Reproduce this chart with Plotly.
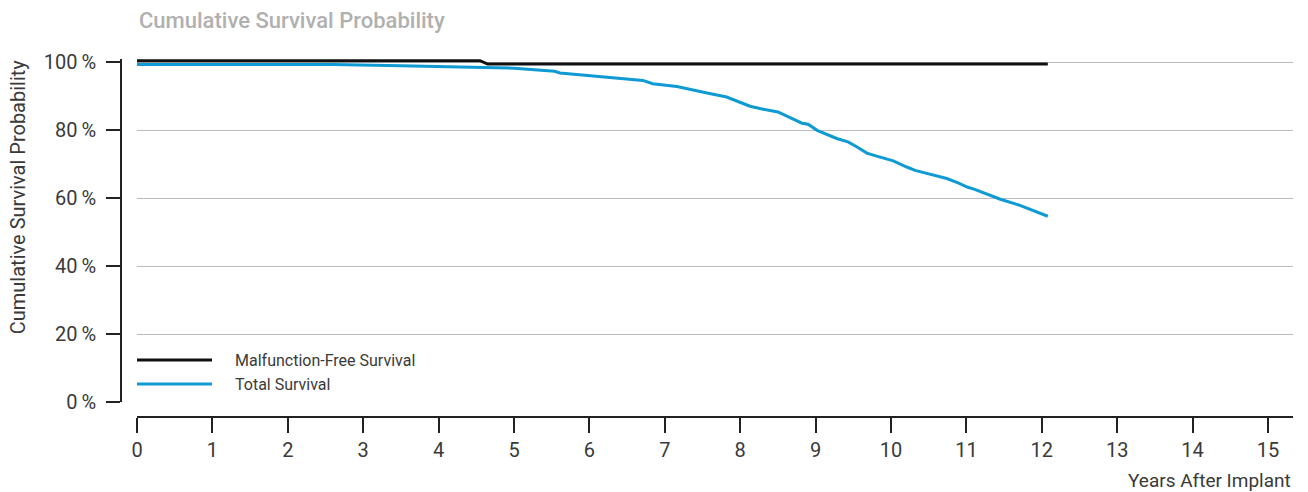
import plotly.graph_objects as go

# Kaplan-Meier style curves
series_names = ["Malfunction-Free Survival", "Total Survival"]
series_colors = ["#111111", "#0e9ad2"]

mf_years = [0, 4.55, 4.65, 12.08]
mf_surv = [100.5, 100.5, 99.5, 99.5]

tot_years = [0, 2.6, 3.5, 4.2, 4.6, 5.0, 5.3, 5.54, 5.61, 6.14, 6.5, 6.71, 6.84,
             7.16, 7.56, 7.82, 8.13, 8.26, 8.50, 8.66, 8.75, 8.82, 8.90, 9.02,
             9.28, 9.43, 9.55, 9.68, 9.81, 10.03, 10.21, 10.32, 10.41, 10.61,
             10.74, 10.89, 11.01, 11.11, 11.45, 11.71, 12.08]
tot_surv = [99.4, 99.4, 99.0, 98.8, 98.5, 98.3, 97.9, 97.4, 96.9, 95.9, 95.3,
            94.7, 93.7, 92.9, 91.0, 89.8, 87.1, 86.4, 85.4, 83.7, 82.9, 82.1,
            81.8, 80.0, 77.6, 76.6, 75.1, 73.3, 72.4, 71.0, 69.2, 68.2, 67.7,
            66.5, 65.8, 64.5, 63.3, 62.6, 59.7, 57.9, 54.7]

x_ticks = list(range(0, 16))
y_ticks = [0, 20, 40, 60, 80, 100]
y_labels = [f"{v}\u2009%" for v in y_ticks]

W, H = 1308, 492
ML, MR, MT, MB = 121, 15, 58.6, 75
PW, PH = W - ML - MR, H - MT - MB


def px(x):
    return (x - ML) / PW


def py(y):
    return (H - MB - y) / PH


FONT = "Roboto"
TXT = "#3a3a3a"

fig = go.Figure()
for name, color, xs, ys in zip(series_names, series_colors,
                               [mf_years, tot_years], [mf_surv, tot_surv]):
    fig.add_trace(go.Scatter(x=xs, y=ys, mode="lines", name=name,
                             line=dict(color=color, width=3), showlegend=False))

fig.update_layout(
    width=W, height=H,
    margin=dict(l=ML, r=MR, t=MT, b=MB, autoexpand=False),
    paper_bgcolor="white", plot_bgcolor="white",
    font=dict(family=FONT, color=TXT),
    xaxis=dict(
        domain=[px(137), 1], range=[0, 1156 / 75.4],
        tickvals=x_ticks, ticks="outside", ticklen=15, tickwidth=1.5,
        tickcolor="#222", showline=True, linecolor="#222", linewidth=1.5,
        showgrid=False, zeroline=False, tickfont=dict(size=20, color=TXT),
        anchor="free", position=0,
    ),
    yaxis=dict(
        domain=[py(402), 1], range=[0, 101],
        tickvals=y_ticks, ticktext=y_labels, ticks="outside", ticklen=14,
        tickwidth=1.5, tickcolor="#222", showline=True, linecolor="#222",
        linewidth=1.5, showgrid=True, gridcolor="#bbbbbb", gridwidth=1,
        zeroline=False, tickfont=dict(size=20, color=TXT),
        anchor="free", position=0, ticklabelstandoff=6,
    ),
)

# titles
fig.add_annotation(text="Cumulative Survival Probability", xref="paper", yref="paper",
                   x=px(137), y=py(20), xanchor="left", yanchor="middle",
                   showarrow=False, font=dict(size=22, color="#b0b0b0", weight=500))
fig.add_annotation(text="Cumulative Survival Probability", xref="paper", yref="paper",
                   x=px(18), y=py(197), textangle=-90, xanchor="center",
                   yanchor="middle", showarrow=False, font=dict(size=20, color=TXT))
fig.add_annotation(text="Years After Implant", xref="paper", yref="paper",
                   x=1, y=py(481), xanchor="right", yanchor="middle",
                   showarrow=False, font=dict(size=19, color=TXT))

# legend drawn as key lines + labels
for i, (name, color) in enumerate(zip(series_names, series_colors)):
    yk = 360 + 24 * i
    fig.add_shape(type="line", xref="paper", yref="paper",
                  x0=px(137), x1=px(212), y0=py(yk), y1=py(yk),
                  line=dict(color=color, width=3))
    fig.add_annotation(text=name, xref="paper", yref="paper", x=px(233), y=py(yk),
                       xanchor="left", yanchor="middle", showarrow=False,
                       font=dict(size=16, color=TXT))

fig.write_html("out.html", config={"displayModeBar": False},
               post_script="document.body.style.margin='0';")
